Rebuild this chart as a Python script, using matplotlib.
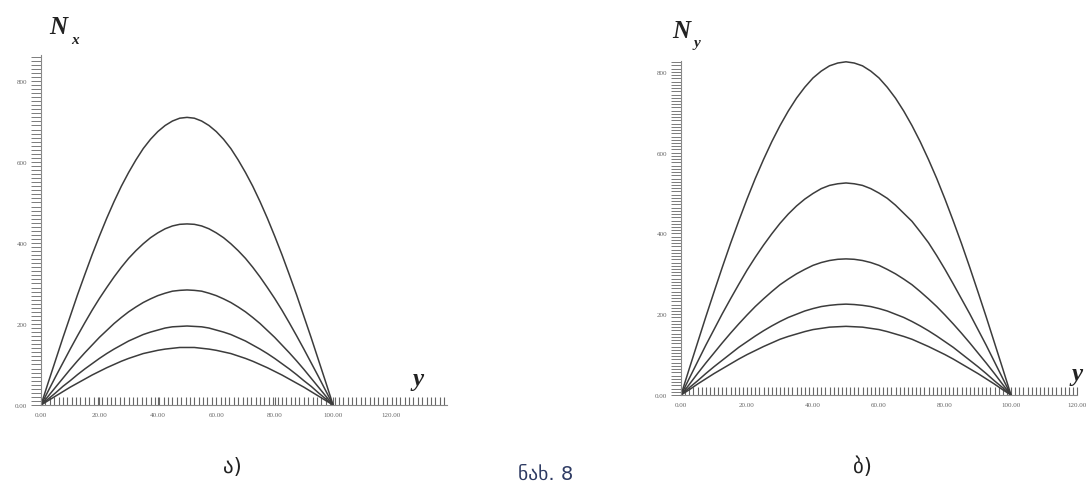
import matplotlib
matplotlib.use("Agg")
import matplotlib.pyplot as plt
from matplotlib.ticker import MultipleLocator, FixedLocator, FixedFormatter

# ---------------- data ----------------
y_pos = [0, 2.5, 5, 7.5, 10, 12.5, 15, 17.5, 20, 22.5, 25, 27.5, 30, 32.5, 35, 37.5, 40,
         42.5, 45, 47.5, 50, 52.5, 55, 57.5, 60, 62.5, 65, 67.5, 70, 72.5, 75, 77.5, 80,
         82.5, 85, 87.5, 90, 92.5, 95, 97.5, 100]

nx_1 = [0, 56, 111, 166, 219, 272, 322, 371, 417, 461, 502, 540, 574, 605, 633, 656, 675, 690, 701, 708, 710,
        708, 701, 690, 675, 656, 633, 605, 574, 540, 502, 461, 417, 371, 322, 272, 219, 166, 111, 56, 0]
nx_2 = [0, 35, 70, 104, 138, 171, 203, 234, 263, 290, 316, 340, 362, 381, 398, 413, 425, 435, 442, 446, 447,
        446, 442, 435, 425, 413, 398, 381, 362, 340, 316, 290, 263, 234, 203, 171, 138, 104, 70, 35, 0]
nx_3 = [0, 22, 44, 66, 88, 109, 129, 148, 167, 184, 201, 216, 230, 242, 253, 262, 270, 276, 281, 283, 284,
        283, 281, 276, 270, 262, 253, 242, 230, 216, 201, 184, 167, 148, 129, 109, 88, 66, 44, 22, 0]
nx_4 = [0, 15, 30, 46, 60, 75, 89, 102, 115, 127, 138, 148, 158, 166, 174, 180, 185, 190, 193, 194, 195,
        194, 193, 190, 185, 180, 174, 166, 158, 148, 138, 127, 115, 102, 89, 75, 60, 46, 30, 15, 0]
nx_5 = [0, 11, 22, 33, 44, 54, 64, 74, 83, 92, 100, 108, 115, 121, 127, 131, 135, 138, 140, 142, 142,
        142, 140, 138, 135, 131, 127, 121, 115, 108, 100, 92, 83, 74, 64, 54, 44, 33, 22, 11, 0]

ny_1 = [0, 65, 129, 193, 255, 316, 375, 431, 485, 536, 583, 627, 667, 703, 735, 762, 785, 802, 815, 822, 825,
        822, 815, 802, 785, 762, 735, 703, 667, 627, 583, 536, 485, 431, 375, 316, 255, 193, 129, 65, 0]
ny_2 = [0, 41, 82, 123, 162, 201, 238, 274, 309, 341, 371, 399, 425, 448, 468, 485, 499, 511, 519, 523, 525,
        523, 519, 511, 500, 487, 470, 450, 430, 404, 377, 345, 311, 275, 238, 201, 162, 123, 82, 41, 0]
ny_3 = [0, 26, 53, 79, 104, 129, 153, 176, 198, 219, 238, 256, 273, 287, 300, 311, 321, 328, 333, 336, 337,
        336, 333, 328, 321, 311, 300, 287, 273, 256, 238, 219, 198, 176, 153, 129, 104, 79, 53, 26, 0]
ny_4 = [0, 18, 35, 53, 70, 86, 102, 118, 132, 146, 159, 171, 182, 192, 200, 208, 214, 219, 222, 224, 225,
        224, 222, 219, 214, 208, 200, 192, 182, 171, 159, 146, 132, 118, 102, 86, 70, 53, 35, 18, 0]
ny_5 = [0, 13, 27, 40, 53, 65, 77, 89, 100, 110, 120, 129, 138, 145, 151, 157, 162, 165, 168, 169, 170,
        169, 168, 165, 162, 157, 151, 145, 138, 129, 120, 110, 100, 89, 77, 65, 53, 40, 27, 13, 0]

x_ticks = [0, 20, 40, 60, 80, 100, 120]
x_tick_labels = ["0.00", "20.00", "40.00", "60.00", "80.00", "100.00", "120.00"]
y_ticks = [0, 200, 400, 600, 800]
y_tick_labels = ["0.00", "200", "400", "600", "800"]

# ---------------- figure ----------------
W, H = 1089, 489
fig = plt.figure(figsize=(W / 100, H / 100), dpi=100)

def px_axes(x0, x1, y_top, y_bot):
    return fig.add_axes([x0 / W, (H - y_bot) / H, (x1 - x0) / W, (y_bot - y_top) / H])

line_color = "#3c3c3c"
tick_color = "#666666"

def style(ax, xmax, ymax, xminor, yminor):
    ax.set_xlim(0, xmax)
    ax.set_ylim(0, ymax)
    for s in ["top", "right"]:
        ax.spines[s].set_visible(False)
    for s in ["left", "bottom"]:
        ax.spines[s].set_color("#888888")
        ax.spines[s].set_linewidth(0.8)
    ax.xaxis.set_major_locator(FixedLocator(x_ticks))
    ax.xaxis.set_major_formatter(FixedFormatter(x_tick_labels))
    ax.yaxis.set_major_locator(FixedLocator(y_ticks))
    ax.yaxis.set_major_formatter(FixedFormatter(y_tick_labels))
    ax.xaxis.set_minor_locator(MultipleLocator(xminor))
    ax.yaxis.set_minor_locator(MultipleLocator(yminor))
    ax.tick_params(axis="x", which="both", direction="in", length=6, width=0.8,
                   color=tick_color, labelsize=5, labelcolor="#666666", pad=5)
    ax.tick_params(axis="y", which="both", direction="out", length=7, width=0.6,
                   color=tick_color, labelsize=5, labelcolor="#666666", pad=3)
    for lab in ax.get_xticklabels() + ax.get_yticklabels():
        lab.set_family("Liberation Serif")
    ax.patch.set_alpha(0)

# left chart
axL = px_axes(41, 447, 56, 406)
for s in [nx_1, nx_2, nx_3, nx_4, nx_5]:
    axL.plot(y_pos, s, color=line_color, lw=1.1, solid_capstyle="round")
style(axL, 139, 864, 1.5, 10)

# right chart
axR = px_axes(681, 1077, 62, 396)
for s in [ny_1, ny_2, ny_3, ny_4, ny_5]:
    axR.plot(y_pos, s, color=line_color, lw=1.1, solid_capstyle="round")
style(axR, 120, 827, 1.25, 8)

# axis labels (bold italic serif)
lab_kw = dict(family="Liberation Serif", style="italic", weight="bold", color="#222222")
fig.text(49 / W, 1 - 27 / H, "N", fontsize=18, ha="left", va="center", **lab_kw)
fig.text(71 / W, 1 - 40 / H, "x", fontsize=11, ha="left", va="center", **lab_kw)
fig.text(672 / W, 1 - 31 / H, "N", fontsize=18, ha="left", va="center", **lab_kw)
fig.text(694 / W, 1 - 43 / H, "y", fontsize=11, ha="left", va="center", **lab_kw)
fig.text(418 / W, 1 - 380 / H, "y", fontsize=18, ha="center", va="center", **lab_kw)
fig.text(1077 / W, 1 - 375 / H, "y", fontsize=18, ha="center", va="center", **lab_kw)

# captions
fig.text(232 / W, 1 - 467 / H, "ა)", fontsize=15, ha="center", va="center", color="#222222", family="DejaVu Sans")
fig.text(546 / W, 1 - 474 / H, "ნახ. 8", fontsize=14, ha="center", va="center", color="#2e3b63", family="DejaVu Sans")
fig.text(862 / W, 1 - 467 / H, "ბ)", fontsize=15, ha="center", va="center", color="#222222", family="DejaVu Sans")

fig.savefig("out.png", dpi=100)
